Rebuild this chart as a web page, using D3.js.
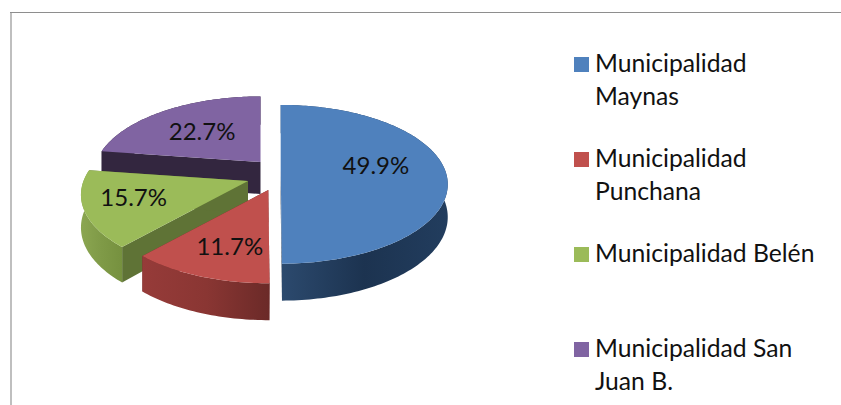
<!DOCTYPE html>
<html><head><meta charset="utf-8">
<script src="https://cdn.jsdelivr.net/npm/d3@7"></script>
<style>html,body{margin:0;background:#fff}svg{display:block}text{font-family:Lato,"Open Sans",sans-serif;fill:#111}</style>
</head><body>
<script>
// --- data
const categories = ["Municipalidad Maynas","Municipalidad Punchana","Municipalidad Belén","Municipalidad San Juan B."];
const shares = [49.9,11.7,15.7,22.7];
const legendLines = [["Municipalidad","Maynas"],["Municipalidad","Punchana"],["Municipalidad Belén"],["Municipalidad San","Juan B."]];
// --- styling
const topColors = ["#4f81bd","#c0504d","#9bbb59","#8064a2"];
const cutColors = ["#172b44","#6d2a28","#5f7336","#33263f"];
const wallStops = [["#2c4a6e","#1c3350","#223d5e"],["#963b39","#8a3633","#6b2a28"],["#8ba651","#7f9a47","#76913f"],["#33263f","#33263f","#33263f"]];
const paintOrder = [3,2,1,0];
// --- layout: slice apex after explosion, 3D look, label polar position
const W=841,H=405;
const apexX=[280.7,268.3,248,260.5], apexY=[170.5,190,181,162];
const rx=164.5, ry=77, persp=0.174, depth0=32;
const labelDeg=[95.1,195.4,245.2,308.2], labelR=[.576,.768,.725,.475];
const legendBaselines=[72,167,262,357], lineGap=33, legendSwatchX=574, legendTextX=595, swatch=15;
const labelFont=24, legendFont=24.7;

const svg=d3.select("body").append("svg").attr("width",W).attr("height",H);
const defs=svg.append("defs");
const pie=d3.pie().sort(null).value(d=>d);
const arcs=pie(shares);
function project(i,a,r,down){
  const u=Math.sin(a)*r, v=-Math.cos(a)*r, s=1/(1-persp*v);
  return [apexX[i]+rx*u*s, apexY[i]+ry*v*s+(down?depth0*Math.pow(s,.75):0)];
}
const line=d3.line();
function rim(i,a0,a1,down){
  const n=Math.max(2,Math.ceil(Math.abs(a1-a0)/0.02));
  return d3.range(n+1).map(k=>project(i,a0+(a1-a0)*k/n,1,down));
}
paintOrder.forEach(i=>{
  const {startAngle:a0,endAngle:a1}=arcs[i];
  const g=svg.append("g");
  const topRim=rim(i,a0,a1,false), lowRim=rim(i,a0,a1,true);
  const xs=d3.extent(topRim,p=>p[0]);
  const grad=defs.append("linearGradient").attr("id","wall"+i).attr("gradientUnits","userSpaceOnUse")
    .attr("x1",xs[0]).attr("x2",xs[1]).attr("y1",0).attr("y2",0);
  wallStops[i].forEach((c,k)=>grad.append("stop").attr("offset",k/2).attr("stop-color",c));
  const apex=project(i,0,0,false), apexLow=project(i,0,0,true);
  // cut faces
  [a0,a1].forEach(a=>{
    g.append("path").attr("d",line([apex,project(i,a,1,false),project(i,a,1,true),apexLow])+"Z")
      .attr("fill",cutColors[i]);
  });
  // outer wall
  g.append("path").attr("d",line(topRim.concat(lowRim.slice().reverse()))+"Z").attr("fill","url(#wall"+i+")");
  // top
  g.append("path").attr("d",line([apex].concat(topRim))+"Z").attr("fill",topColors[i]);
});
// labels
shares.forEach((v,i)=>{
  const p=project(i,labelDeg[i]*Math.PI/180,labelR[i],false);
  svg.append("text").attr("x",p[0]).attr("y",p[1]).attr("text-anchor","middle")
    .attr("font-size",labelFont).text(d3.format(".1f")(v)+"%");
});
// legend
categories.forEach((c,i)=>{
  svg.append("rect").attr("x",legendSwatchX).attr("y",legendBaselines[i]-15).attr("width",swatch).attr("height",swatch).attr("fill",topColors[i]);
  legendLines[i].forEach((t,k)=>{
    svg.append("text").attr("x",legendTextX).attr("y",legendBaselines[i]+k*lineGap).attr("font-size",legendFont).text(t);
  });
});
// frame
svg.append("rect").attr("x",10).attr("y",12).attr("width",2).attr("height",H-12).attr("fill","#bfbfbf");
svg.append("rect").attr("x",10).attr("y",12).attr("width",W-10).attr("height",1).attr("fill","#8e8e8e");
</script>
</body></html>
